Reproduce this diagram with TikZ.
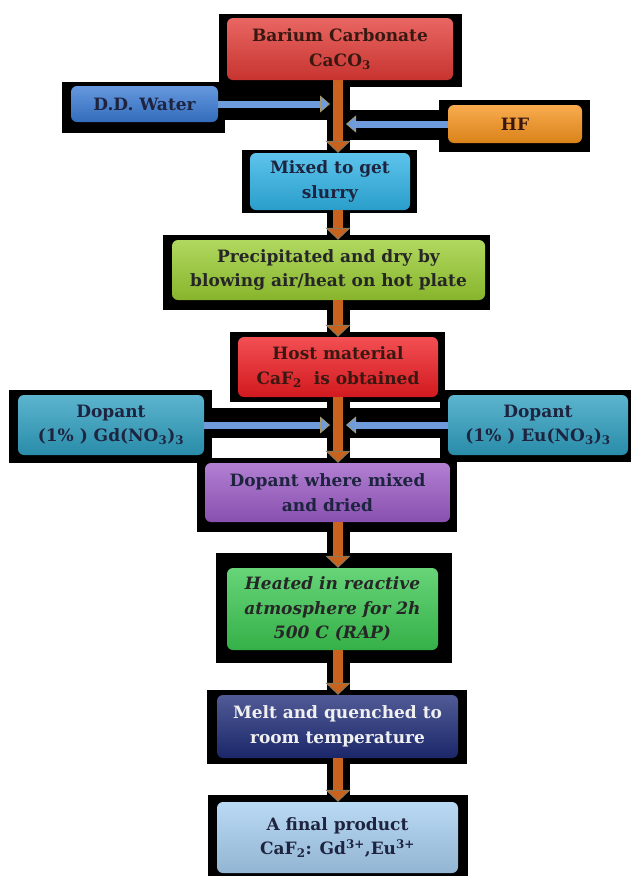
\documentclass[tikz,border=0pt]{standalone}
\usepackage{fontspec}
\setmainfont{DejaVu Serif}
\usetikzlibrary{arrows.meta}
\definecolor{cRed}{HTML}{E23B36}
\definecolor{cBlue}{HTML}{3A7BD5}
\definecolor{cOrange}{HTML}{F7941D}
\definecolor{cCyan}{HTML}{2FB3E6}
\definecolor{cLime}{HTML}{9ACD32}
\definecolor{cHost}{HTML}{EE1D23}
\definecolor{cTeal}{HTML}{2E9FC0}
\definecolor{cPurple}{HTML}{9B5BC6}
\definecolor{cGreen}{HTML}{3CC852}
\definecolor{cNavy}{HTML}{1F2C78}
\definecolor{cLight}{HTML}{A6CEF0}
\definecolor{arrOr}{HTML}{C9621E}
\definecolor{arrEdge}{HTML}{8A7A5A}
\definecolor{arrBl}{HTML}{6E9BDC}
\definecolor{arrTan}{HTML}{A89A70}
\definecolor{tDark}{HTML}{1E2440}
\definecolor{tBrown}{HTML}{3A1812}
\begin{document}
\begin{tikzpicture}[x=1pt,y=-1pt,
  cbox/.style={rounded corners=6pt, inner sep=0pt, align=center,
    font=\fontsize{17}{24.5}\selectfont\bfseries, text=tDark},
  shade3/.style={top color=#1!78!white, middle color=#1, bottom color=#1!88!black},
  oarr/.style={line width=10pt, draw=arrOr,
    -{Triangle[length=12pt,width=25pt,line width=1pt,color=arrEdge,fill=arrOr]}},
  barr/.style={line width=7pt, draw=arrBl,
    -{Triangle[length=10pt,width=17pt,line width=0.8pt,color=arrTan,fill=arrBl]}}]
\useasboundingbox (0,0) rectangle (631,876);
% black backings
\fill[black] (219,14) rectangle (462,87);
\fill[black] (62,82) rectangle (225,133);
\fill[black] (439,100) rectangle (590,152);
\fill[black] (225,87) rectangle (330,120);
\fill[black] (346,110) rectangle (439,140);
\fill[black] (327,87) rectangle (350,150);
\fill[black] (242,150) rectangle (417,213);
\fill[black] (327,213) rectangle (350,235);
\fill[black] (163,235) rectangle (490,310);
\fill[black] (327,310) rectangle (350,332);
\fill[black] (230,332) rectangle (445,402);
\fill[black] (327,402) rectangle (350,458);
\fill[black] (9,390) rectangle (212,463);
\fill[black] (440,390) rectangle (631,462);
\fill[black] (212,408) rectangle (330,438);
\fill[black] (346,408) rectangle (440,438);
\fill[black] (197,458) rectangle (457,532);
\fill[black] (327,532) rectangle (350,553);
\fill[black] (216,553) rectangle (452,663);
\fill[black] (327,663) rectangle (350,690);
\fill[black] (207,690) rectangle (467,764);
\fill[black] (327,764) rectangle (350,795);
\fill[black] (208,795) rectangle (468,876);
% column coordinates
\coordinate (col) at (338,0);
\coordinate (colL) at (330,0);
\coordinate (colR) at (346,0);
% boxes
\node[cbox, shade3=cRed, text=tBrown, minimum width=226pt, minimum height=62pt] (bc) at (340,49)
  {Barium Carbonate\\CaCO\textsubscript{3}};
\node[cbox, shade3=cBlue, minimum width=147pt, minimum height=36pt] (ddw) at (144.5,104) {D.D. Water};
\node[cbox, shade3=cOrange, text=tBrown, minimum width=134pt, minimum height=38pt] (hf) at (515,124) {HF};
\node[cbox, shade3=cCyan, minimum width=160pt, minimum height=57pt] (mix) at (330,181.5)
  {Mixed to get\\slurry};
\node[cbox, shade3=cLime, text=black!85, minimum width=313pt, minimum height=60pt] (pre) at (328.5,270)
  {Precipitated and dry by\\blowing air/heat on hot plate};
\node[cbox, shade3=cHost, text=tBrown, minimum width=200pt, minimum height=60pt] (host) at (338,367)
  {Host material\\CaF\textsubscript{2}\ \ is obtained};
\node[cbox, shade3=cTeal, minimum width=186pt, minimum height=60pt] (dl) at (111,425)
  {Dopant\\(1\% ) Gd(NO\textsubscript{3})\textsubscript{3}};
\node[cbox, shade3=cTeal, minimum width=180pt, minimum height=60pt] (dr) at (538,425)
  {Dopant\\(1\% ) Eu(NO\textsubscript{3})\textsubscript{3}};
\node[cbox, shade3=cPurple, minimum width=245pt, minimum height=59pt] (dm) at (327.5,492.5)
  {Dopant where mixed\\and dried};
\node[cbox, shade3=cGreen, text=black!85, font=\fontsize{17}{24.5}\selectfont\bfseries\itshape,
  minimum width=211pt, minimum height=82pt] (heat) at (332.5,609)
  {Heated in reactive\\atmosphere for 2h\\500 C (RAP)};
\node[cbox, shade3=cNavy, text=white!94!black, minimum width=241pt, minimum height=63pt] (melt) at (337.5,726.5)
  {Melt and quenched to\\room temperature};
\node[cbox, shade3=cLight, minimum width=241pt, minimum height=71pt] (fin) at (337.5,837.5)
  {A final product\\CaF\textsubscript{2}: Gd\textsuperscript{3+},Eu\textsuperscript{3+}};
% vertical flow arrows
\draw[oarr] (bc.south -| col) -- (mix.north -| col);
\draw[oarr] (mix.south -| col) -- (pre.north -| col);
\draw[oarr] (pre.south -| col) -- (host.north -| col);
\draw[oarr] (host.south -| col) -- (dm.north -| col);
\draw[oarr] (dm.south -| col) -- (heat.north -| col);
\draw[oarr] (heat.south -| col) -- (melt.north -| col);
\draw[oarr] (melt.south -| col) -- (fin.north -| col);
% side inputs
\draw[barr] (ddw.east) -- (ddw.east -| colL);
\draw[barr] (hf.west) -- (hf.west -| colR);
\draw[barr] (dl.east) -- (dl.east -| colL);
\draw[barr] (dr.west) -- (dr.west -| colR);
\end{tikzpicture}
\end{document}
